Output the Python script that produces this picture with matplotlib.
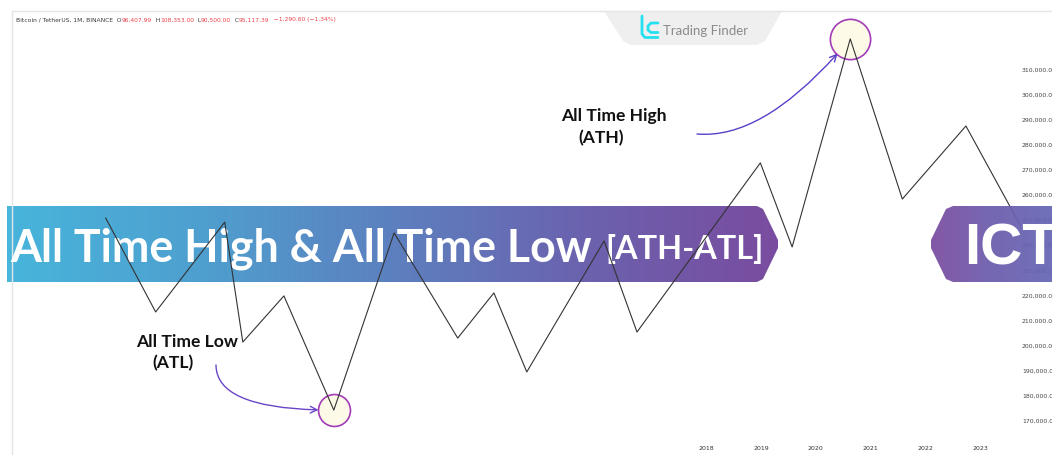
import numpy as np
import matplotlib
matplotlib.use("Agg")
import matplotlib.pyplot as plt
from matplotlib.patches import Polygon
from matplotlib.colors import LinearSegmentedColormap

# zigzag swing points (decimal year, price)
dates = [2007.05, 2007.96, 2009.22, 2009.55, 2010.30, 2011.21, 2012.31,
         2013.47, 2014.13, 2014.73, 2016.14, 2016.74, 2018.99, 2019.57,
         2020.63, 2021.58, 2022.74, 2023.73]
prices = [250400, 213000, 248800, 201000, 219400, 173900, 244500,
          202600, 220600, 189100, 241300, 205000, 272400, 238900,
          321800, 258000, 287100, 247600]

years = [2018, 2019, 2020, 2021, 2022, 2023]
price_ticks = list(range(170000, 320000, 10000))

header_parts = ["Bitcoin / TetherUS, 1M, BINANCE  O", "96,407.99", "  H", "108,353.00",
                "  L", "90,500.00", "  C", "95,117.39", "  \u22121,290.60 (\u22121.34%)"]
header_colors = ["#3a3a3a", "#e8434b"] * 4 + ["#e8434b"]

banner_colors = ["#48b5db", "#4e9fcf", "#5d80bf", "#6b62ae", "#7a4c9f"]
ict_colors = ["#7a4b9f", "#6c5cad", "#6466b4"]

W, H = 1052, 456
fig = plt.figure(figsize=(W / 100, H / 100), dpi=100)


def pixel_axes(z):
    a = fig.add_axes([0, 0, 1, 1], zorder=z)
    a.set_autoscale_on(False)
    a.set_xlim(0, W)
    a.set_ylim(H, 0)
    a.axis("off")
    return a


def gradient_patch(a, pts, colors, alpha=1.0):
    poly = Polygon(pts, closed=True, fc="none", ec="none")
    a.add_patch(poly)
    xs, ys = zip(*pts)
    cmap = LinearSegmentedColormap.from_list("grad", colors)
    im = a.imshow(np.linspace(0, 1, 256)[None, :], cmap=cmap, aspect="auto",
                  extent=(min(xs), max(xs), max(ys), min(ys)), alpha=alpha)
    im.set_clip_path(poly)


# background layer: frame, header, logo, banner
deco = pixel_axes(1)
deco.plot([12, 12], [12, H], color="#e3e5ea", lw=1)
deco.plot([12, W], [12, 12], color="#e3e5ea", lw=1)

prev = None
for s, c in zip(header_parts, header_colors):
    if prev is None:
        prev = deco.text(16, 20, s, color=c, fontsize=4.35, va="center", ha="left")
    else:
        prev = deco.annotate(s, xy=(1, 0.5), xycoords=prev, color=c,
                             fontsize=4.35, va="center", ha="left")

deco.add_patch(Polygon([(604, 12), (782, 12), (765, 42), (757, 46), (631, 46), (623, 42)],
                       closed=True, fc="#efefef", ec="none"))
deco.plot([642, 642, 645, 658], [17, 35, 38.5, 38.5], color="#25e0f0", lw=2,
          solid_capstyle="round")
deco.plot([658, 651, 648, 648, 651, 658], [24, 24, 27, 31, 33.5, 33.5], color="#25e0f0",
          lw=2, solid_capstyle="round")
deco.text(663, 31, "Trading Finder", color="#8a8a8a", fontsize=9.5, family="Lato",
          va="center", ha="left")

gradient_patch(deco, [(7, 207), (757, 207), (763, 210), (778, 241), (778, 249),
                      (763, 280), (757, 283), (7, 283)], banner_colors)
deco.text(10, 262, "All Time High & All Time Low", color="white", fontsize=32.1,
          family="Lato", fontweight="bold", va="baseline", ha="left")
deco.text(605, 259, "[ATH-ATL]", color="white", fontsize=23.3,
          family="Lato", fontweight="bold", va="baseline", ha="left")

# chart layer
ax = fig.add_axes([12 / W, 16 / H, 1040 / W, 428 / H], zorder=2)
ax.patch.set_alpha(0)
ax.set_xlim(2005.34, 2024.31)
ax.set_ylim(162390, 332908)
for sp in ax.spines.values():
    sp.set_visible(False)
ax.set_xticks(years)
ax.set_xticklabels([str(y) for y in years])
ax.set_yticks(price_ticks)
ax.set_yticklabels([f"{p:,.2f}" for p in price_ticks])
ax.tick_params(axis="x", length=0, pad=4.3, labelsize=4.5, labelcolor="#333333")
ax.tick_params(axis="y", length=0, left=False, labelleft=False, right=True,
               labelright=True, pad=-21.6, labelsize=4.4, labelcolor="#444444")

ax.plot(dates, prices, color="#333333", lw=0.8, zorder=3)

i_lo = int(np.argmin(prices))
i_hi = int(np.argmax(prices))
ax.plot(dates[i_lo], prices[i_lo], "o", ms=23, mfc="#fdfae8", mec="#a23cb8", mew=1.2, zorder=2)
ax.plot(dates[i_hi], prices[i_hi], "o", ms=29, mfc="#fdfae8", mec="#a23cb8", mew=1.2, zorder=2)

lab = dict(transform=deco.transData, family="Lato", fontweight="bold", fontsize=12.6,
           color="#111111", va="baseline", ha="left")
ax.text(561, 121, "All Time High", **lab)
ax.text(578, 143, "(ATH)", **lab)
ax.text(136, 347, "All Time Low", **lab)
ax.text(152, 368, "(ATL)", **lab)

ax.annotate("", xy=(dates[i_hi], prices[i_hi]), xytext=(697, 135), textcoords=deco.transData,
            arrowprops=dict(arrowstyle="->", color="#5b3fc9", lw=1, shrinkA=0, shrinkB=14,
                            mutation_scale=12,
                            connectionstyle="angle3,angleA=-5,angleB=50"))
ax.annotate("", xy=(dates[i_lo], prices[i_lo]), xytext=(216, 366), textcoords=deco.transData,
            arrowprops=dict(arrowstyle="->", color="#6a45c8", lw=1, shrinkA=0, shrinkB=11,
                            mutation_scale=12,
                            connectionstyle="angle3,angleA=-90,angleB=0"))

# top layer: ICT tag
top = pixel_axes(3)
gradient_patch(top, [(W, 207), (953, 207), (946, 210), (931, 241), (931, 249),
                     (946, 280), (953, 283), (W, 283)], ict_colors, alpha=0.93)
top.text(964, 265, "ICT", color="white", fontsize=42, family="Liberation Sans",
         fontweight="bold", va="baseline", ha="left")

fig.savefig("out.png", dpi=100)
